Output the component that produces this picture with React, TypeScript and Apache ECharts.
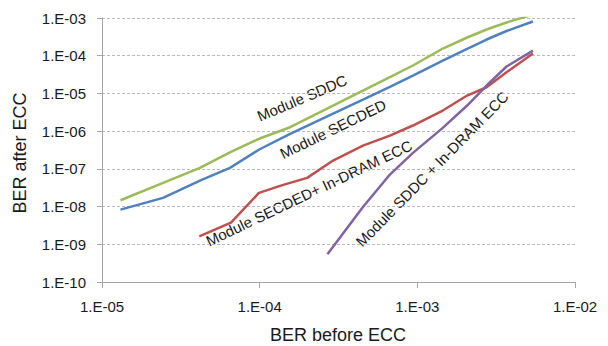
import React, { useEffect, useRef } from "react";
import * as echarts from "echarts";

// Log-scale data (BER before ECC -> BER after ECC)
const xModule = [1.31e-5, 2.44e-5, 4.18e-5, 6.48e-5, 1.0e-4, 1.56e-4, 2.0e-4, 2.92e-4, 4.52e-4, 6.7e-4, 9.38e-4, 1.45e-3, 2.07e-3, 2.75e-3, 3.68e-3, 5.41e-3];
const ySDDC = [1.47e-8, 4.23e-8, 1.06e-7, 2.75e-7, 6.37e-7, 1.27e-6, 2.16e-6, 4.78e-6, 1.19e-5, 2.72e-5, 5.5e-5, 1.55e-4, 3.04e-4, 4.95e-4, 7.6e-4, 1.24e-3];
const ySECDED = [8.32e-9, 1.7e-8, 4.89e-8, 1.06e-7, 3.31e-7, 8.48e-7, 1.38e-6, 2.93e-6, 6.89e-6, 1.49e-5, 2.98e-5, 7.46e-5, 1.52e-4, 2.69e-4, 4.52e-4, 8.07e-4];
const xSECDEDInDram = [4.14e-5, 6.58e-5, 9.9e-5, 1.41e-4, 2.0e-4, 2.92e-4, 4.52e-4, 6.7e-4, 9.38e-4, 1.45e-3, 2.07e-3, 2.75e-3, 3.68e-3, 5.41e-3];
const ySECDEDInDram = [1.63e-9, 3.77e-9, 2.31e-8, 3.77e-8, 5.77e-8, 1.66e-7, 4.15e-7, 7.64e-7, 1.41e-6, 3.52e-6, 8.79e-6, 1.46e-5, 3.65e-5, 1.14e-4];
const xSDDCInDram = [2.69e-4, 4.52e-4, 6.7e-4, 9.38e-4, 1.45e-3, 2.07e-3, 2.75e-3, 3.68e-3, 5.41e-3];
const ySDDCInDram = [5.43e-10, 9.7e-9, 7.06e-8, 2.65e-7, 1.22e-6, 4.78e-6, 1.62e-5, 5.17e-5, 1.37e-4];

const seriesNames = ["Module SDDC", "Module SECDED", "Module SECDED+ In-DRAM ECC", "Module SDDC + In-DRAM ECC"];
const seriesColors = ["#9BBB59", "#4F81BD", "#C0504D", "#8064A2"];
const xTitle = "BER before ECC";
const yTitle = "BER after ECC";

const FONT = '"Liberation Sans", Arial, sans-serif';
const TEXT = "#1a1a1a";

function pairs(xs: number[], ys: number[]) {
  return xs.map((x, i) => [x, ys[i]]);
}

function fmt(v: number) {
  const e = Math.round(Math.log10(v));
  const s = Math.abs(e) < 10 ? "0" + Math.abs(e) : String(Math.abs(e));
  return "1.E" + (e < 0 ? "-" : "+") + s;
}

export default function App() {
  const ref = useRef<HTMLDivElement>(null);
  useEffect(() => {
    if (!ref.current) return;
    const chart = echarts.init(ref.current, undefined, { renderer: "svg" });
    const dataSets = [
      pairs(xModule, ySDDC),
      pairs(xModule, ySECDED),
      pairs(xSECDEDInDram, ySECDEDInDram),
      pairs(xSDDCInDram, ySDDCInDram),
    ];
    const label = (text: string, x: number, y: number, deg: number) => ({
      type: "text",
      x,
      y,
      rotation: (deg * Math.PI) / 180,
      silent: true,
      style: {
        text,
        fontSize: 15,
        fontFamily: FONT,
        fill: TEXT,
        textAlign: "center",
        textVerticalAlign: "middle",
      },
    });
    chart.setOption({
      animation: false,
      backgroundColor: "#ffffff",
      grid: { left: 102, right: 33, top: 18, bottom: 64, containLabel: false },
      xAxis: {
        type: "log",
        logBase: 10,
        min: 1e-5,
        max: 1e-2,
        interval: 1,
        axisLine: { show: true, lineStyle: { color: "#A6A6A6", width: 1 } },
        axisTick: { show: true, inside: false, length: 6, lineStyle: { color: "#A6A6A6" } },
        axisLabel: { margin: 17, fontSize: 15, fontFamily: FONT, color: TEXT, formatter: fmt },
        splitLine: { show: false },
        minorTick: { show: false },
      },
      yAxis: {
        type: "log",
        logBase: 10,
        min: 1e-10,
        max: 1e-3,
        interval: 1,
        axisLine: { show: true, lineStyle: { color: "#A6A6A6", width: 1 } },
        axisTick: { show: true, inside: false, length: 5, lineStyle: { color: "#A6A6A6" } },
        axisLabel: { margin: 16, fontSize: 15, fontFamily: FONT, color: TEXT, formatter: fmt },
        splitLine: { show: true, lineStyle: { color: "#B8B8B8", type: [3, 2], width: 1 } },
        minorTick: { show: false },
      },
      series: dataSets.map((d, i) => ({
        name: seriesNames[i],
        type: "line",
        data: d,
        symbol: "none",
        clip: true,
        lineStyle: { color: seriesColors[i], width: 2.5 },
        itemStyle: { color: seriesColors[i] },
      })),
      graphic: [
        label(seriesNames[0], 302, 98, 23),
        label(seriesNames[1], 333, 129, 26),
        label(seriesNames[2], 309, 193, 25.5),
        label(seriesNames[3], 432, 169, 45.5),
        {
          type: "text",
          x: 338,
          y: 335,
          silent: true,
          style: { text: xTitle, fontSize: 18, fontFamily: FONT, fill: TEXT, textAlign: "center", textVerticalAlign: "middle" },
        },
        {
          type: "text",
          x: 20,
          y: 153,
          rotation: Math.PI / 2,
          silent: true,
          style: { text: yTitle, fontSize: 18, fontFamily: FONT, fill: TEXT, textAlign: "center", textVerticalAlign: "middle" },
        },
      ],
    });
    return () => chart.dispose();
  }, []);
  return (
    <div
      ref={ref}
      style={{ position: "fixed", left: 0, top: 0, width: 608, height: 346, background: "#fff" }}
    />
  );
}
